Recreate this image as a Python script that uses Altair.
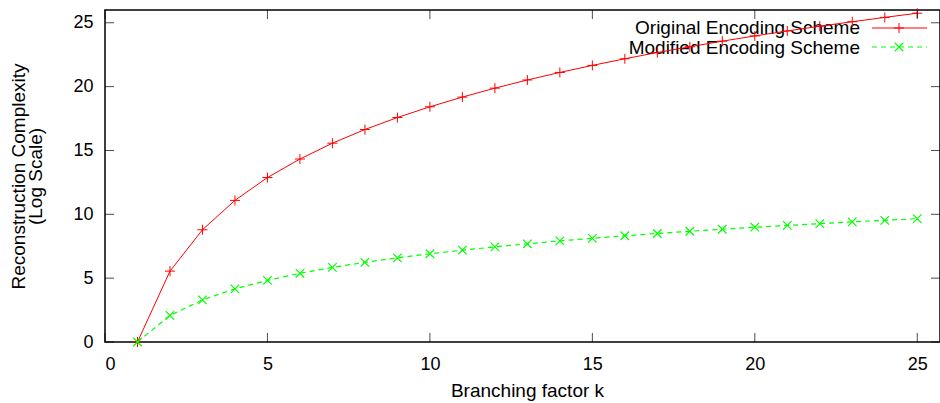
import altair as alt
import pandas as pd

# Data
k_values = list(range(1, 26))
original_scheme = [0.00, 5.55, 8.79, 11.09, 12.88, 14.33, 15.57, 16.64, 17.58, 18.42,
                   19.18, 19.88, 20.52, 21.11, 21.66, 22.18, 22.67, 23.12, 23.56, 23.97,
                   24.36, 24.73, 25.08, 25.42, 25.75]
modified_scheme = [0.00, 2.08, 3.30, 4.16, 4.83, 5.38, 5.84, 6.24, 6.59, 6.91,
                   7.19, 7.45, 7.69, 7.92, 8.12, 8.32, 8.50, 8.67, 8.83, 8.99,
                   9.13, 9.27, 9.41, 9.53, 9.66]
series_names = ["Original Encoding Scheme", "Modified Encoding Scheme"]
x_ticks = [0, 5, 10, 15, 20, 25]
y_ticks = [0, 5, 10, 15, 20, 25]

FONT = "Liberation Sans"
RED = "#ff0000"
GREEN = "#00ff00"
X_MAX = 25.7
Y_MAX = 26

df_orig = pd.DataFrame({"k": k_values, "v": original_scheme})
df_mod = pd.DataFrame({"k": k_values, "v": modified_scheme})
df_xt = pd.DataFrame({"t": x_ticks})
df_yt = pd.DataFrame({"t": y_ticks})

xscale = alt.Scale(domain=[0, X_MAX], nice=False, zero=False)
yscale = alt.Scale(domain=[0, Y_MAX], nice=False, zero=False)

x_enc = alt.X("k:Q", scale=xscale, axis=alt.Axis(
    values=x_ticks, title="Branching factor k", titleBaseline="alphabetic",
    titleX=422, titleY=54, titleFontSize=19, titleFont=FONT, titleFontWeight="normal",
    labelPadding=13))
y_enc = alt.Y("v:Q", scale=yscale, axis=alt.Axis(
    values=y_ticks, title=["Reconstruction Complexity", "(Log Scale)"],
    titleAngle=-90, titleBaseline="alphabetic", titleAlign="center",
    titleX=-81, titleY=166, titleLineHeight=17, titleFontSize=19,
    titleFont=FONT, titleFontWeight="normal", labelPadding=12))

PLUS = "M-1,0L1,0M0,-1L0,1"
CROSS = "M-1,-1L1,1M-1,1L1,-1"

line_orig = alt.Chart(df_orig).mark_line(color=RED, strokeWidth=1).encode(x=x_enc, y=y_enc)
pts_orig = alt.Chart(df_orig).mark_point(shape=PLUS, color=RED, filled=False, size=100,
                                         strokeWidth=1, opacity=1).encode(x="k:Q", y="v:Q")
line_mod = alt.Chart(df_mod).mark_line(color=GREEN, strokeWidth=1.2, strokeDash=[5, 4]).encode(x="k:Q", y="v:Q")
pts_mod = alt.Chart(df_mod).mark_point(shape=CROSS, color=GREEN, filled=False, size=72,
                                       strokeWidth=1.2, opacity=1).encode(x="k:Q", y="v:Q")

# inward ticks (gnuplot style), mirrored on all four sides
tick_b = alt.Chart(df_xt).mark_tick(orient="vertical", size=9, thickness=1, color="black",
                                     yOffset=-4.5).encode(x=alt.X("t:Q", scale=xscale), y=alt.datum(0))
tick_t = alt.Chart(df_xt).mark_tick(orient="vertical", size=9, thickness=1, color="black",
                                     yOffset=4.5).encode(x=alt.X("t:Q", scale=xscale), y=alt.datum(Y_MAX))
tick_l = alt.Chart(df_yt).mark_tick(orient="horizontal", size=9, thickness=1, color="black",
                                     xOffset=4.5).encode(y=alt.Y("t:Q", scale=yscale), x=alt.datum(0))
tick_r = alt.Chart(df_yt).mark_tick(orient="horizontal", size=9, thickness=1, color="black",
                                     xOffset=-4.5).encode(y=alt.Y("t:Q", scale=yscale), x=alt.datum(X_MAX))

# gnuplot-style key, top right: label then sample
df_key1 = pd.DataFrame({"label": [series_names[0]]})
df_key2 = pd.DataFrame({"label": [series_names[1]]})
key_text1 = alt.Chart(df_key1).mark_text(font=FONT, fontSize=19, align="right",
                                         baseline="alphabetic", color="black").encode(
    text="label:N", x=alt.value(755), y=alt.value(24))
key_text2 = alt.Chart(df_key2).mark_text(font=FONT, fontSize=19, align="right",
                                         baseline="alphabetic", color="black").encode(
    text="label:N", x=alt.value(755), y=alt.value(43.5))
key_line1 = alt.Chart(df_key1).mark_rule(color=RED, strokeWidth=1).encode(
    x=alt.value(767), x2=alt.value(822), y=alt.value(18))
key_line2 = alt.Chart(df_key2).mark_rule(color=GREEN, strokeWidth=1.2, strokeDash=[5, 4]).encode(
    x=alt.value(767), x2=alt.value(822), y=alt.value(37))
key_pt1 = alt.Chart(df_key1).mark_point(shape=PLUS, color=RED, filled=False, size=100,
                                        strokeWidth=1, opacity=1).encode(x=alt.value(794), y=alt.value(18))
key_pt2 = alt.Chart(df_key2).mark_point(shape=CROSS, color=GREEN, filled=False, size=72,
                                        strokeWidth=1.2, opacity=1).encode(x=alt.value(794), y=alt.value(37))

chart = alt.layer(
    key_text1, key_text2,
    line_orig, pts_orig, line_mod, pts_mod,
    tick_b, tick_t, tick_l, tick_r,
    key_line1, key_line2, key_pt1, key_pt2,
).properties(
    width=835, height=332,
    autosize=alt.AutoSizeParams(type="none"),
    padding={"left": 105, "top": 10, "right": 0, "bottom": 61},
    background="white",
).configure_view(
    stroke="black", strokeWidth=1.5
).configure_axis(
    grid=False, domain=False, ticks=False,
    labelFont=FONT, labelFontSize=18, labelColor="black",
    titleColor="black",
)

chart.save("out.html", embed_options={"renderer": "svg", "actions": False})
